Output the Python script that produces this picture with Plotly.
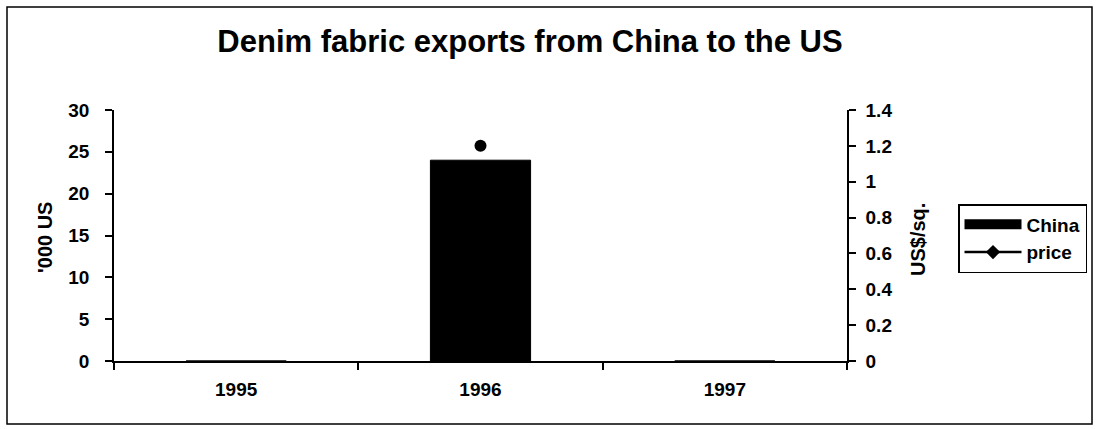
import plotly.graph_objects as go

years = ["1995", "1996", "1997"]
china_exports = [0, 24, 0]
price = [None, 1.2, None]

FONT = "Liberation Sans, Arial, sans-serif"

fig = go.Figure()
fig.add_trace(go.Bar(x=years, y=china_exports, name="China",
                     marker=dict(color="black", line=dict(color="black", width=1)),
                     legendgroup="china", showlegend=False, yaxis="y"))
# legend entry for the bar series (wide black block as in the original)
fig.add_trace(go.Scatter(x=[None], y=[None], name="China", mode="lines",
                         line=dict(color="black", width=13),
                         legendgroup="china", showlegend=True, yaxis="y"))
fig.add_trace(go.Scatter(x=years, y=price, name="price", mode="lines+markers",
                         line=dict(color="black", width=2),
                         marker=dict(symbol="circle", size=12, color="black"),
                         legendgroup="price", showlegend=False, yaxis="y2"))
# legend entry for price (diamond marker on a line, as in the original legend)
fig.add_trace(go.Scatter(x=[None], y=[None], name="price", mode="lines+markers",
                         line=dict(color="black", width=2.5),
                         marker=dict(symbol="diamond", size=11, color="black"),
                         legendgroup="price", showlegend=True, yaxis="y2"))

L, R, T, B = 114, 847, 110, 361
W, H = 1099, 429
pw, ph = R - L, B - T

def px(x):
    return (x - L) / pw

def py(y):
    return (B - y) / ph

tickfont = dict(family=FONT, size=19, color="black", weight="bold")

fig.update_layout(
    width=W, height=H,
    margin=dict(l=L, r=W - R, t=T, b=H - B),
    paper_bgcolor="white", plot_bgcolor="white",
    font=dict(family=FONT, size=19, color="black"),
    bargap=0.59,
    showlegend=True,
    title=dict(text="<b>Denim fabric exports from China to the US</b>",
               font=dict(size=31, family=FONT, color="black"),
               x=530 / W, xanchor="center",
               y=1 - 41 / H, yanchor="middle", xref="container", yref="container"),
    xaxis=dict(type="category", showline=True, linecolor="black", linewidth=1.5,
               ticks="outside", ticklen=7, tickcolor="black", tickwidth=1.5,
               tickson="boundaries", ticklabelstandoff=10,
               showgrid=False, zeroline=False, tickfont=tickfont),
    yaxis=dict(range=[0, 30], tickvals=[0, 5, 10, 15, 20, 25, 30],
               showline=True, linecolor="black", linewidth=1.5,
               ticks="outside", ticklen=7, tickcolor="black", tickwidth=1.5,
               ticklabelstandoff=12,
               showgrid=False, zeroline=False, tickfont=tickfont),
    yaxis2=dict(range=[0, 1.4], tickvals=[0, 0.2, 0.4, 0.6, 0.8, 1, 1.2, 1.4],
                overlaying="y", side="right",
                showline=True, linecolor="black", linewidth=1.5,
                ticks="outside", ticklen=7, tickcolor="black", tickwidth=1.5,
                ticklabelstandoff=6,
                showgrid=False, zeroline=False, tickfont=tickfont),
    legend=dict(x=px(958), y=py(204), xanchor="left", yanchor="top",
                bordercolor="black", borderwidth=1.5, bgcolor="white",
                font=dict(family=FONT, size=19, color="black", weight="bold"),
                tracegroupgap=0, itemwidth=57),
    annotations=[
        dict(text="<b>'000 US</b>", textangle=-90, xref="paper", yref="paper",
             x=px(45), y=py(238), xanchor="center", yanchor="middle",
             showarrow=False, font=dict(family=FONT, size=20, color="black")),
        dict(text="<b>US$/sq.</b>", textangle=-90, xref="paper", yref="paper",
             x=px(918), y=py(240), xanchor="center", yanchor="middle",
             showarrow=False, font=dict(family=FONT, size=20, color="black")),
    ],
    shapes=[
        dict(type="rect", xref="paper", yref="paper",
             x0=px(7), x1=px(1092), y0=py(424), y1=py(7),
             line=dict(color="black", width=1.5), layer="below"),
    ],
)

fig.write_html("out.html")
